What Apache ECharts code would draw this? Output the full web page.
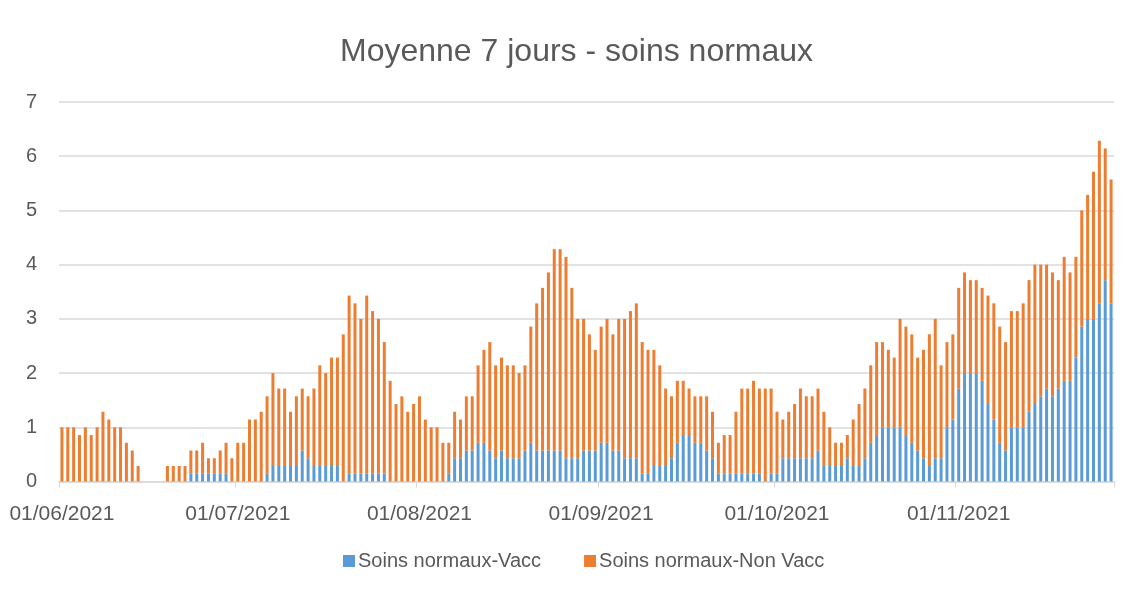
<!DOCTYPE html>
<html>
<head>
<meta charset="utf-8">
<script src="https://cdn.jsdelivr.net/npm/echarts@6/dist/echarts.min.js"></script>
<style>html,body{margin:0;padding:0;background:#fff;}#c{width:1135px;height:589px;}</style>
</head>
<body>
<div id="c"></div>
<script>
// Daily dates: 01/06/2021 .. 27/11/2021
const startDate = [2021, 6, 1];
const dayCount = 180;
const yTicks = [0, 1, 2, 3, 4, 5, 6, 7];

// Soins normaux - Vacc (7-day average)
const vacc = [
  // June
  0,0,0,0,0,0,0,0,0,0, 0,0,0,0,0,0,0,0,0,0, 0,0,0.143,0.143,0.143,0.143,0.143,0.143,0.143,0,
  // July
  0,0,0,0,0,0.143,0.286,0.286,0.286,0.286, 0.286,0.571,0.429,0.286,0.286,0.286,0.286,0.286,0,0.143,
  0.143,0.143,0.143,0.143,0.143,0.143,0,0,0,0, 0,
  // August
  0,0,0,0,0,0.143,0.429,0.429,0.571,0.571, 0.714,0.714,0.571,0.429,0.571,0.429,0.429,0.429,0.571,0.714,
  0.571,0.571,0.571,0.571,0.571,0.429,0.429,0.429,0.571,0.571, 0.571,
  // September
  0.714,0.714,0.571,0.571,0.429,0.429,0.429,0.143,0.143,0.286, 0.286,0.286,0.429,0.714,0.857,0.857,0.714,0.714,0.571,0.429,
  0.143,0.143,0.143,0.143,0.143,0.143,0.143,0.143,0,0.143,
  // October
  0.143,0.429,0.429,0.429,0.429,0.429,0.429,0.571,0.286,0.286, 0.286,0.286,0.429,0.286,0.286,0.429,0.714,0.857,1.0,1.0,
  1.0,1.0,0.857,0.714,0.571,0.429,0.286,0.429,0.429,1.0, 1.143,
  // November
  1.714,2.0,2.0,2.0,1.857,1.429,1.143,0.714,0.571,1.0, 1.0,1.0,1.286,1.429,1.571,1.714,1.571,1.714,1.857,1.857,
  2.286,2.857,3.0,3.0,3.286,3.714,3.286
];

// Soins normaux - Non Vacc (7-day average)
const nonVacc = [
  // June
  1.0,1.0,1.0,0.857,1.0,0.857,1.0,1.286,1.143,1.0, 1.0,0.714,0.571,0.286,0,0,0,0,0.286,0.286,
  0.286,0.286,0.429,0.429,0.571,0.286,0.286,0.429,0.571,0.429,
  // July
  0.714,0.714,1.143,1.143,1.286,1.429,1.714,1.429,1.429,1.0, 1.286,1.143,1.143,1.429,1.857,1.714,2.0,2.0,2.714,3.286,
  3.143,2.857,3.286,3.0,2.857,2.429,1.857,1.429,1.571,1.286, 1.429,
  // August
  1.571,1.143,1.0,1.0,0.714,0.571,0.857,0.714,1.0,1.0, 1.429,1.714,2.0,1.714,1.714,1.714,1.714,1.571,1.571,2.143,
  2.714,3.0,3.286,3.714,3.714,3.714,3.143,2.571,2.429,2.143, 1.857,
  // September
  2.143,2.286,2.143,2.429,2.571,2.714,2.857,2.429,2.286,2.143, 1.857,1.429,1.143,1.143,1.0,0.857,0.857,0.857,1.0,0.857,
  0.571,0.714,0.714,1.143,1.571,1.571,1.714,1.571,1.714,1.571,
  // October
  1.143,0.714,0.857,1.0,1.286,1.143,1.143,1.143,1.0,0.714, 0.429,0.429,0.429,0.857,1.143,1.286,1.429,1.714,1.571,1.429,
  1.286,2.0,2.0,2.0,1.714,2.0,2.429,2.571,1.714,1.571, 1.571,
  // November
  1.857,1.857,1.714,1.714,1.714,2.0,2.143,2.143,2.0,2.143, 2.143,2.286,2.429,2.571,2.429,2.286,2.286,2.0,2.286,2.0,
  1.857,2.143,2.286,2.714,3.0,2.429,2.286
];

const categories = [];
(function(){
  const d = new Date(Date.UTC(startDate[0], startDate[1]-1, startDate[2]));
  for (let i = 0; i < dayCount; i++) {
    const dd = String(d.getUTCDate()).padStart(2,'0');
    const mm = String(d.getUTCMonth()+1).padStart(2,'0');
    categories.push(dd + '/' + mm + '/' + d.getUTCFullYear());
    d.setUTCDate(d.getUTCDate()+1);
  }
})();

const isMonthStart = (idx) => categories[idx].slice(0,2) === '01';

const chart = echarts.init(document.getElementById('c'), null, {renderer:'canvas'});
const FONT = '"Liberation Sans", Arial, sans-serif';
chart.setOption({
  backgroundColor: '#ffffff',
  animation: false,
  title: {
    text: 'Moyenne 7 jours - soins normaux',
    left: 335,
    top: 31,
    textStyle: {fontFamily: FONT, fontSize: 32, fontWeight: 'normal', color: '#595959'}
  },
  legend: {
    bottom: 13,
    left: 338,
    itemWidth: 12,
    itemHeight: 12,
    itemGap: 43,
    icon: 'rect',
    textStyle: {fontFamily: FONT, fontSize: 20, color: '#595959', padding: [0,0,0,-2]},
    data: ['Soins normaux-Vacc', 'Soins normaux-Non Vacc']
  },
  grid: {left: 59, right: 21, top: 102, bottom: 107.5, containLabel: false},
  xAxis: {
    type: 'category',
    data: categories,
    boundaryGap: true,
    axisLine: {show: true, lineStyle: {color: '#d9d9d9', width: 1.5}},
    axisTick: {show: true, interval: (i) => isMonthStart(i), length: 6, lineStyle: {color: '#d9d9d9'}},
    axisLabel: {
      interval: (i) => isMonthStart(i),
      margin: 22,
      fontFamily: FONT, fontSize: 21, color: '#595959'
    },
    splitLine: {show: false}
  },
  yAxis: {
    type: 'value',
    min: yTicks[0],
    max: yTicks[yTicks.length-1],
    interval: 1,
    axisLine: {show: false},
    axisTick: {show: false},
    axisLabel: {margin: 22, fontFamily: FONT, fontSize: 20, color: '#595959'},
    splitLine: {lineStyle: {color: '#d9d9d9', width: 1.5}}
  },
  series: [
    {
      name: 'Soins normaux-Vacc',
      type: 'bar',
      stack: 'total',
      data: vacc,
      barWidth: 3,
      itemStyle: {color: '#5b9bd5'}
    },
    {
      name: 'Soins normaux-Non Vacc',
      type: 'bar',
      stack: 'total',
      data: nonVacc,
      barWidth: 3,
      itemStyle: {color: '#ed7d31'}
    }
  ]
});
</script>
</body>
</html>
